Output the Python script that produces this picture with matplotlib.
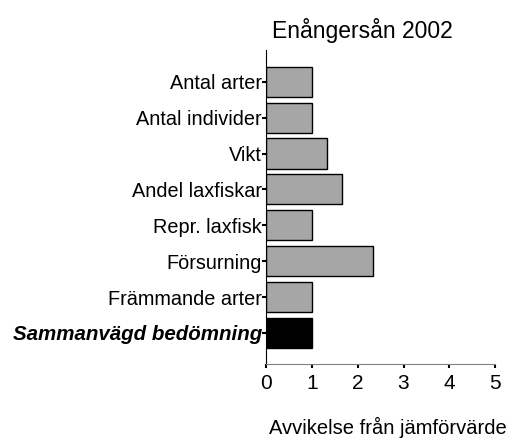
import matplotlib.pyplot as plt

plt.rcParams['font.family'] = ['Liberation Sans', 'DejaVu Sans']

categories = ['Antal arter', 'Antal individer', 'Vikt', 'Andel laxfiskar',
              'Repr. laxfisk', 'Försurning', 'Främmande arter',
              'Sammanvägd bedömning']
values = [1.0, 1.0, 1.33, 1.65, 1.0, 2.34, 1.0, 1.0]
colors = ['#a6a6a6'] * 7 + ['black']
xticks = [0, 1, 2, 3, 4, 5]

fig = plt.figure(figsize=(5.12, 4.41), dpi=100)
ax = fig.add_axes([0.52, 0.175, 0.447, 0.712])

pos = list(range(len(categories)))
ax.barh(pos, values, height=0.84, color=colors, edgecolor='black', linewidth=1)

ax.set_xlim(0, 5)
ax.set_ylim(7.86, -0.89)
ax.set_xticks(xticks)
ax.set_xticklabels([str(t) for t in xticks], fontsize=15)
ax.set_yticks(pos)
ax.set_yticklabels(categories, fontsize=14.3)
# last label is the combined assessment, shown bold italic
lab = ax.get_yticklabels()[-1]
lab.set_fontweight('bold')
lab.set_fontstyle('italic')
lab.set_fontsize(14.8)

ax.tick_params(axis='y', length=3, width=1.5, pad=0)
ax.tick_params(axis='x', length=3, width=1.5, pad=4)
for s in ['top', 'right']:
    ax.spines[s].set_visible(False)
ax.spines['left'].set_color('black')
ax.spines['bottom'].set_color('gray')

fig.text(0.707, 0.93, 'Enångersån 2002', fontsize=16.5, ha='center', va='center')
fig.text(0.758, 0.03, 'Avvikelse från jämförvärde', fontsize=14.5, ha='center', va='center')

plt.savefig('out.png', dpi=100)
